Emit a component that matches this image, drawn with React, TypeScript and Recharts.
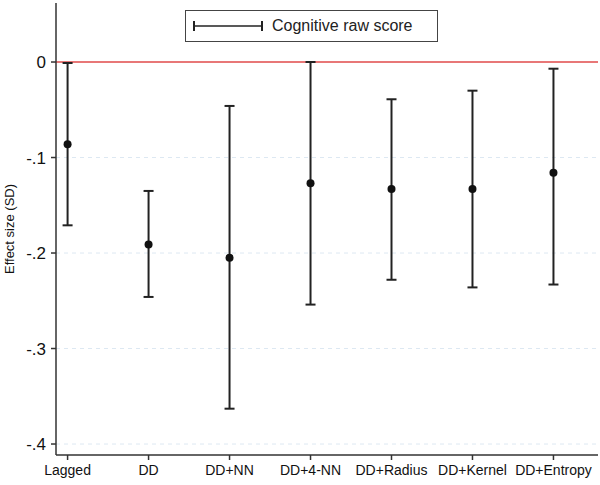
import React from "react";
import { ComposedChart, Scatter, ErrorBar, XAxis, YAxis, ReferenceLine } from "recharts";

const categories = ["Lagged", "DD", "DD+NN", "DD+4-NN", "DD+Radius", "DD+Kernel", "DD+Entropy"];
const estimates = [-0.086, -0.191, -0.205, -0.127, -0.133, -0.133, -0.116];
const lowerCI = [-0.171, -0.246, -0.363, -0.254, -0.228, -0.236, -0.233];
const upperCI = [-0.001, -0.135, -0.046, 0.0, -0.039, -0.030, -0.007];
const yTicks = [0, -0.1, -0.2, -0.3, -0.4];
const gridLines = [-0.1, -0.2, -0.3, -0.4];
const xTicks = [0, 1, 2, 3, 4, 5, 6];

const data = categories.map((name, i) => ({
    x: i,
    name: name,
    y: estimates[i],
    err: [estimates[i] - lowerCI[i], upperCI[i] - estimates[i]]
}));

const font = "'Liberation Sans', Arial, sans-serif";

const fmtY = (v: number) => (v === 0 ? "0" : v.toFixed(1).replace("0.", "."));

const Dot = (props: any) => <circle cx={props.cx} cy={props.cy} r={4} fill="#111" />;

const LegendBox = () => (
    <div
        style={{
            position: "absolute",
            left: 185,
            top: 10,
            border: "1.5px solid #444",
            width: 253,
            height: 32,
            boxSizing: "border-box",
            display: "flex",
            alignItems: "center",
            fontFamily: font,
            fontSize: 16,
            color: "#222",
            background: "#fff"
        }}
    >
        <svg width={80} height={20} style={{ marginLeft: 6 }}>
            <line x1={2} y1={10} x2={70} y2={10} stroke="#222" strokeWidth={1.5} />
            <line x1={2} y1={5} x2={2} y2={15} stroke="#222" strokeWidth={2} />
            <line x1={70} y1={5} x2={70} y2={15} stroke="#222" strokeWidth={2} />
        </svg>
        <span>Cognitive raw score</span>
    </div>
);

export default function App() {
    return (
        <div style={{ position: "absolute", left: 0, top: 0, width: 600, height: 485, background: "#fff" }}>
            <ComposedChart width={600} height={485} data={data} margin={{ top: 3, right: 2, bottom: 0, left: 6 }}>
                <XAxis
                    type="number"
                    dataKey="x"
                    domain={[-0.143, 6.55]}
                    ticks={xTicks}
                    interval={0}
                    allowDataOverflow
                    height={30}
                    tickFormatter={(i: number) => categories[i]}
                    tick={{ fill: "#111", fontSize: 14, fontFamily: font }}
                    tickSize={5}
                    tickMargin={5}
                    stroke="#333"
                    strokeWidth={1.5}
                />
                <YAxis
                    type="number"
                    dataKey="y"
                    domain={[-0.4115, 0.0618]}
                    ticks={yTicks}
                    interval={0}
                    allowDataOverflow
                    tickFormatter={fmtY}
                    width={50}
                    tick={{ fill: "#111", fontSize: 17, fontFamily: font }}
                    tickSize={5}
                    tickMargin={5}
                    stroke="#333"
                    strokeWidth={1.5}
                    label={{ value: "Effect size (SD)", angle: -90, position: "insideLeft", offset: 3, style: { fontSize: 13, fontFamily: font, fill: "#111", textAnchor: "middle" } }}
                />
                {gridLines.map((g) => (
                    <ReferenceLine key={g} y={g} stroke="#dde8f2" strokeDasharray="4 4" strokeWidth={1} />
                ))}
                <ReferenceLine y={0} stroke="#e04a4a" strokeWidth={1.5} />
                <Scatter dataKey="y" shape={<Dot />} isAnimationActive={false} name="Cognitive raw score">
                    <ErrorBar dataKey="err" direction="y" width={5} stroke="#222" strokeWidth={2} />
                </Scatter>
            </ComposedChart>
            <LegendBox />
        </div>
    );
}
